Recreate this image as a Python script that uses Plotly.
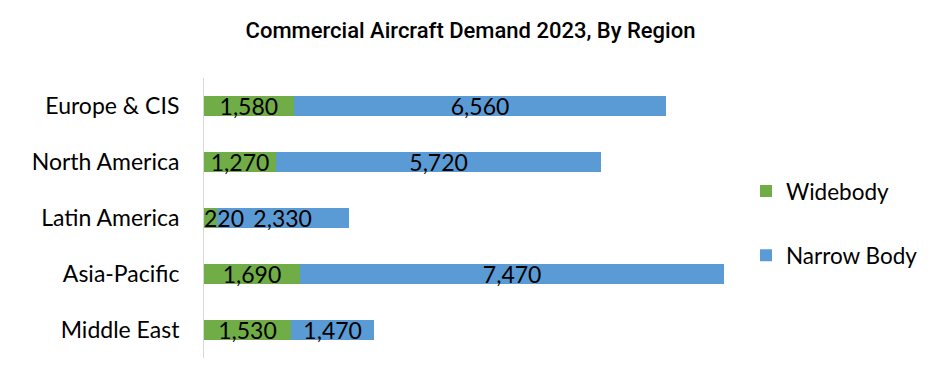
import plotly.graph_objects as go

regions = ["Europe & CIS", "North America", "Latin America", "Asia-Pacific", "Middle East"]
widebody = [1580, 1270, 220, 1690, 1530]
narrow_body = [6560, 5720, 2330, 7470, 1470]

FONT = "Lato"
LABEL_DY = 0.065  # small vertical nudge (in category units) to centre text on bars

fig = go.Figure()
fig.add_trace(go.Bar(
    y=regions, x=widebody, name="Widebody", orientation="h",
    marker=dict(color="#70AD47", line=dict(width=0)),
    legendgroup="a", hoverinfo="skip",
))
fig.add_trace(go.Bar(
    y=regions, x=narrow_body, name="Narrow Body", orientation="h",
    marker=dict(color="#5B9BD5", line=dict(width=0)),
    text=[f"{v:,}" for v in narrow_body], textposition="inside", textangle=0,
    insidetextanchor="middle", constraintext="none",
    textfont=dict(family=FONT, size=23, color="black"),
    legendgroup="b", hoverinfo="skip",
))
# widebody labels drawn on top of both segments
wb_x = [v / 2 if v >= 600 else 0 for v in widebody]
wb_pos = ["middle center" if v >= 600 else "middle right" for v in widebody]
fig.add_trace(go.Scatter(
    y=[i + LABEL_DY for i in range(len(regions))], x=wb_x, yaxis="y2",
    mode="text", text=[f"{v:,}" for v in widebody],
    textposition=wb_pos, textfont=dict(family=FONT, size=23, color="black"),
    showlegend=False, hoverinfo="skip", cliponaxis=False,
))

fig.update_layout(
    width=941, height=384,
    barmode="stack", bargap=0.643,
    paper_bgcolor="white", plot_bgcolor="white",
    margin=dict(l=204, r=169, t=78, b=26),
    title=dict(text="Commercial Aircraft Demand 2023, By Region",
               x=0.5, xref="container", xanchor="center",
               y=1 - 30 / 384, yref="container", yanchor="middle",
               font=dict(family="Roboto", size=22, color="black", weight=500)),
    xaxis=dict(range=[0, 10000], showgrid=False, zeroline=False,
               showticklabels=False, ticks="", showline=False, fixedrange=True),
    yaxis=dict(autorange="reversed", showgrid=False, zeroline=False,
               showline=True, linecolor="#D9D9D9", linewidth=1,
               ticks="", ticklabelstandoff=19,
               tickfont=dict(family=FONT, size=23, color="black")),
    yaxis2=dict(overlaying="y", range=[len(regions) - 0.5, -0.5], visible=False,
                showgrid=False, zeroline=False, fixedrange=True),
    legend=dict(x=(746 - 204) / 568, xref="paper", xanchor="left", y=0.481, yanchor="middle",
                traceorder="grouped", tracegroupgap=32, bgcolor="rgba(0,0,0,0)",
                font=dict(family=FONT, size=22.5, color="black"),
                itemwidth=30),
    showlegend=True,
)

fig.write_html("out.html", config={"displayModeBar": False},
               post_script="document.body.style.margin='0';")
